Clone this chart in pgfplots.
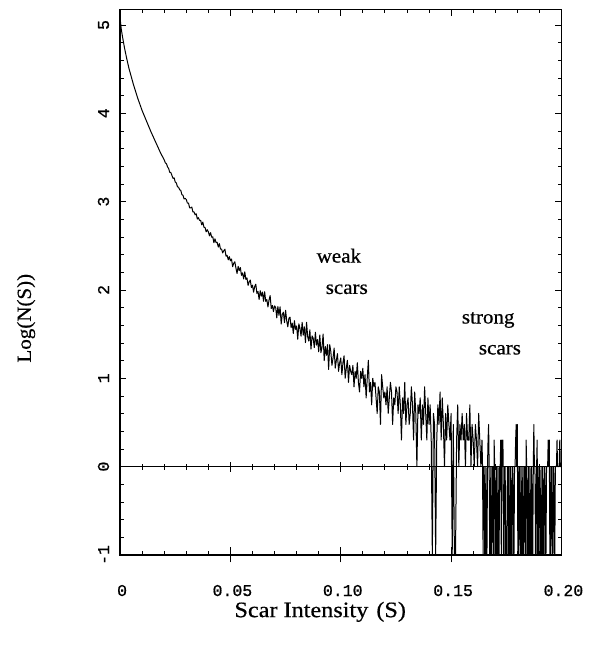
\documentclass[border=0pt]{standalone}
\usepackage{fontspec}
\setmainfont{Liberation Serif}
\newfontfamily\labelfont[FakeStretch=1.05,FakeBold=0.6]{Liberation Serif}
\newfontfamily\xlabelfont[FakeStretch=1.1,FakeBold=0.6]{Liberation Serif}
\newfontfamily\monofont[FakeBold=0.8]{Liberation Mono}
\usepackage{pgfplots}
\pgfplotsset{compat=1.18}
\begin{document}
\begin{tikzpicture}[x=1pt,y=1pt]
\path (-120,-91) rectangle (474,554.5);
\begin{axis}[
  at={(0,0)}, anchor=south west,
  scale only axis, width=441pt, height=545pt,
  xmin=0, xmax=0.2, ymin=-1, ymax=5.175,
  xtick={0,0.05,0.1,0.15,0.2}, xticklabels={0,0.05,0.10,0.15,0.20},
  ytick={-1,0,1,2,3,4,5}, yticklabels={-1,0,1,2,3,4,5},
  minor x tick num=4, minor y tick num=4,
  tick align=inside,
  major tick length=6pt, minor tick length=3.5pt,
  every tick/.style={black, line width=0.8pt},
  axis line style={line width=1.2pt},
  /pgf/number format/assume math mode=true,
  ticklabel style={font=\monofont\fontsize{16.5}{16.5}\selectfont},
  xticklabel style={anchor=north, inner sep=0pt, outer ysep=30pt, xshift=2pt},
  yticklabel style={rotate=90, anchor=south, inner sep=0pt, outer ysep=11pt},
  xlabel={Scar Intensity\hspace{8pt}(S)},
  xlabel style={at={(axis description cs:0.4535,-0.114)}, anchor=base, font=\xlabelfont\fontsize{22}{22}\selectfont},
  ylabel={Log(N(S))},
  ylabel style={at={(axis description cs:-0.213,0.434)}, anchor=center, font=\labelfont\fontsize{20}{20}\selectfont},
]
\addplot[black, line width=1.0pt, line join=round, mark=none] table {
x y
0.0000 5.08
0.0005 4.96
0.0010 4.88
0.0015 4.81
0.0020 4.74
0.0025 4.68
0.0030 4.62
0.0040 4.51
0.0050 4.42
0.0060 4.33
0.0070 4.25
0.0080 4.17
0.0090 4.10
0.0100 4.03
0.0110 3.97
0.0120 3.91
0.0130 3.85
0.0140 3.79
0.0150 3.735
0.0160 3.68
0.0170 3.625
0.0180 3.57
0.0190 3.52
0.0200 3.473
0.0205 3.439
0.0210 3.430
0.0215 3.393
0.0220 3.375
0.0225 3.332
0.0230 3.329
0.0235 3.296
0.0240 3.263
0.0245 3.268
0.0250 3.221
0.0255 3.211
0.0260 3.168
0.0265 3.163
0.0270 3.134
0.0275 3.128
0.0280 3.079
0.0285 3.072
0.0290 3.030
0.0295 3.037
0.0300 3.023
0.0305 2.983
0.0310 2.984
0.0315 2.930
0.0320 2.930
0.0325 2.939
0.0330 2.883
0.0335 2.883
0.0340 2.851
0.0345 2.862
0.0350 2.803
0.0355 2.818
0.0360 2.787
0.0365 2.789
0.0370 2.737
0.0375 2.768
0.0380 2.709
0.0385 2.707
0.0390 2.658
0.0395 2.682
0.0400 2.658
0.0405 2.613
0.0410 2.649
0.0415 2.598
0.0420 2.602
0.0425 2.535
0.0430 2.579
0.0435 2.536
0.0440 2.539
0.0445 2.486
0.0450 2.524
0.0455 2.463
0.0460 2.462
0.0465 2.419
0.0470 2.444
0.0475 2.461
0.0480 2.383
0.0485 2.392
0.0490 2.341
0.0495 2.377
0.0500 2.330
0.0505 2.350
0.0510 2.264
0.0515 2.302
0.0520 2.319
0.0525 2.247
0.0530 2.187
0.0535 2.267
0.0540 2.220
0.0545 2.254
0.0550 2.165
0.0555 2.193
0.0560 2.125
0.0565 2.205
0.0570 2.119
0.0575 2.136
0.0580 2.051
0.0585 2.092
0.0590 2.112
0.0595 2.027
0.0600 2.054
0.0605 1.975
0.0610 2.039
0.0615 2.065
0.0620 1.961
0.0625 1.983
0.0630 1.893
0.0635 1.991
0.0640 1.930
0.0645 1.976
0.0650 1.872
0.0655 1.980
0.0660 1.871
0.0665 1.892
0.0670 1.807
0.0675 1.887
0.0680 1.936
0.0685 1.790
0.0690 1.825
0.0695 1.755
0.0700 1.819
0.0705 1.804
0.0710 1.685
0.0715 1.813
0.0720 1.712
0.0725 1.809
0.0730 1.614
0.0735 1.723
0.0740 1.748
0.0745 1.630
0.0750 1.770
0.0755 1.651
0.0760 1.583
0.0765 1.679
0.0770 1.692
0.0775 1.574
0.0780 1.625
0.0785 1.507
0.0790 1.652
0.0795 1.553
0.0800 1.592
0.0805 1.442
0.0810 1.616
0.0815 1.566
0.0820 1.476
0.0825 1.634
0.0830 1.488
0.0835 1.582
0.0840 1.404
0.0845 1.634
0.0850 1.472
0.0855 1.422
0.0860 1.548
0.0865 1.330
0.0870 1.480
0.0875 1.454
0.0880 1.348
0.0885 1.522
0.0890 1.376
0.0895 1.438
0.0900 1.300
0.0905 1.490
0.0910 1.290
0.0915 1.350
0.0920 1.500
0.0925 1.200
0.0930 1.360
0.0935 1.260
0.0940 1.380
0.0945 1.100
0.0950 1.380
0.0955 1.301
0.0960 1.146
0.0965 1.230
0.0970 1.342
0.0975 1.114
0.0980 1.204
0.0985 1.279
0.0990 1.079
0.0995 1.176
0.1000 1.230
0.1005 1.041
0.1010 1.176
0.1015 1.255
0.1020 1.000
0.1025 1.114
0.1030 1.204
0.1035 0.954
0.1040 1.146
0.1045 1.079
0.1050 1.041
0.1055 1.146
0.1060 0.903
0.1065 1.079
0.1070 1.000
0.1075 1.176
0.1080 0.954
0.1085 0.845
0.1090 1.079
0.1095 1.000
0.1100 1.114
0.1105 0.903
0.1110 1.041
0.1115 0.778
0.1120 1.000
0.1125 1.204
0.1130 0.845
0.1135 0.954
0.1140 0.699
0.1145 1.000
0.1150 0.903
0.1155 0.954
0.1160 0.778
0.1165 0.602
0.1170 0.903
0.1175 0.845
0.1180 0.477
0.1185 1.041
0.1190 0.903
0.1195 0.778
0.1200 0.845
0.1205 0.699
0.1210 0.903
0.1215 0.602
0.1220 0.778
0.1225 0.954
0.1230 0.845
0.1235 0.477
0.1240 0.778
0.1245 0.699
0.1250 0.903
0.1255 0.845
0.1260 0.602
0.1265 0.903
0.1270 0.699
0.1275 0.301
0.1280 0.778
0.1285 0.602
0.1290 0.954
0.1295 0.477
0.1300 0.699
0.1305 0.778
0.1310 0.477
0.1315 0.602
0.1320 0.903
0.1325 0.699
0.1330 0.301
0.1335 0.845
0.1340 0.602
0.1345 0
0.1350 0.699
0.1355 0.602
0.1360 0.778
0.1365 0.301
0.1370 0.699
0.1375 0.477
0.1380 0.903
0.1385 0.602
0.1390 0.301
0.1395 0.778
0.1400 0.477
0.1405 0.699
0.1410 0.301
0.1415 -1
0.1420 0.602
0.1425 0.477
0.1430 -1
0.1435 0.301
0.1440 0.699
0.1445 0.477
0.1450 0.845
0.1455 0.301
0.1460 0.778
0.1465 0.477
0.1470 0
0.1475 0.602
0.1480 0.301
0.1485 0.699
0.1490 0.477
0.1495 0.301
0.1500 0.602
0.1505 -1
0.1510 0.477
0.1515 -1
0.1520 -1
0.1525 0.301
0.1530 0.699
0.1535 0
0.1540 0.477
0.1545 0.301
0.1550 0.602
0.1555 0.301
0.1560 0.477
0.1565 0
0.1570 0.602
0.1575 0.301
0.1580 0.301
0.1585 0.699
0.1590 0
0.1595 0.477
0.1600 0.301
0.1605 0
0.1610 0.477
0.1615 0.301
0.1620 0
0.1625 0.602
0.1630 0.301
0.1635 0
0.16400 0.301
0.16425 0
0.16450 -1
0.16475 0
0.16500 0
0.16525 -1
0.16550 -1
0.16575 0
0.16600 -1
0.16625 -1
0.16650 0
0.16675 0.301
0.16700 0.477
0.16725 0
0.16750 -1
0.16775 -1
0.16800 0
0.16825 -1
0.16850 -1
0.16875 0
0.16900 0
0.16925 -1
0.16950 0.301
0.16975 0
0.17000 -1
0.17025 -1
0.17050 0
0.17075 -1
0.17100 -1
0.17125 0
0.17150 -1
0.17175 -1
0.17200 0
0.17225 0
0.17250 0.301
0.17275 -1
0.17300 0.301
0.17325 0
0.17350 0.301
0.17375 -1
0.17400 -1
0.17425 0
0.17450 0
0.17475 -1
0.17500 -1
0.17525 -1
0.17550 0
0.17575 0
0.17600 -1
0.17625 0
0.17650 -1
0.17675 -1
0.17700 0
0.17725 -1
0.17750 -1
0.17775 0
0.17800 0
0.17825 -1
0.17850 -1
0.17875 0
0.17900 0
0.17925 0.301
0.17950 0.477
0.17975 0
0.18000 0.477
0.18025 -1
0.18050 -1
0.18075 0
0.18100 0
0.18125 -1
0.18150 -1
0.18175 0
0.18200 -1
0.18225 -1
0.18250 0
0.18275 -1
0.18300 -1
0.18325 0
0.18350 0
0.18375 -1
0.18400 0.301
0.18425 0
0.18450 -1
0.18475 -1
0.18500 0
0.18525 -1
0.18550 -1
0.18575 0
0.18600 -1
0.18625 -1
0.18650 0
0.18675 -1
0.18700 -1
0.18725 0
0.18750 0.477
0.18775 0
0.18800 0
0.18825 -1
0.18850 -1
0.18875 0
0.18900 0.301
0.18925 -1
0.18950 -1
0.18975 0
0.19000 0
0.19025 -1
0.19050 -1
0.19075 0
0.19100 -1
0.19125 -1
0.19150 0
0.19175 -1
0.19200 -1
0.19225 0
0.19250 0
0.19275 -1
0.19300 -1
0.19325 0
0.19350 0
0.19375 0
0.19400 0.301
0.19425 0
0.19450 0.301
0.19475 -1
0.19500 -1
0.19525 0
0.19550 0
0.19575 -1
0.19600 -1
0.19625 0
0.19650 0
0.19675 -1
0.19700 -1
0.19725 0
0.19750 0
0.19775 0
0.19800 0.301
0.19825 0
0.19850 0
0.19875 0
0.19900 0
0.19925 0.301
0.19950 0
0.19975 0
0.20000 0
};
\node[anchor=base west, font=\labelfont\fontsize{20}{20}\selectfont] at (axis cs:0.0875,2.31) {weak};
\node[anchor=base west, font=\labelfont\fontsize{20}{20}\selectfont] at (axis cs:0.0916,1.955) {scars};
\node[anchor=base west, font=\labelfont\fontsize{20}{20}\selectfont] at (axis cs:0.1533,1.62) {strong};
\node[anchor=base west, font=\labelfont\fontsize{20}{20}\selectfont] at (axis cs:0.161,1.27) {scars};
\end{axis}
\begin{axis}[
  at={(0,0)}, anchor=south west,
  scale only axis, width=441pt, height=545pt,
  xmin=0, xmax=0.2, ymin=-1, ymax=5.175,
  axis x line*=middle, axis y line=none,
  xtick={0,0.05,0.1,0.15,0.2}, xticklabels={},
  minor x tick num=4, ytick=\empty,
  tick align=center,
  major tick length=10pt, minor tick length=6pt,
  every tick/.style={black, line width=0.8pt},
  axis line style={line width=1.2pt, -},
]
\end{axis}
\begin{axis}[
  at={(0,0)}, anchor=south west,
  scale only axis, width=441pt, height=545pt,
  xmin=0, xmax=0.2, ymin=-1, ymax=5.175,
  axis x line*=bottom, axis y line=none,
  xtick={0.05,0.1,0.15}, xticklabels={},
  ytick=\empty,
  tick align=center,
  major tick length=15pt,
  every tick/.style={black, line width=0.8pt},
  axis line style={line width=1.2pt, -},
]
\end{axis}
\end{tikzpicture}
\end{document}
